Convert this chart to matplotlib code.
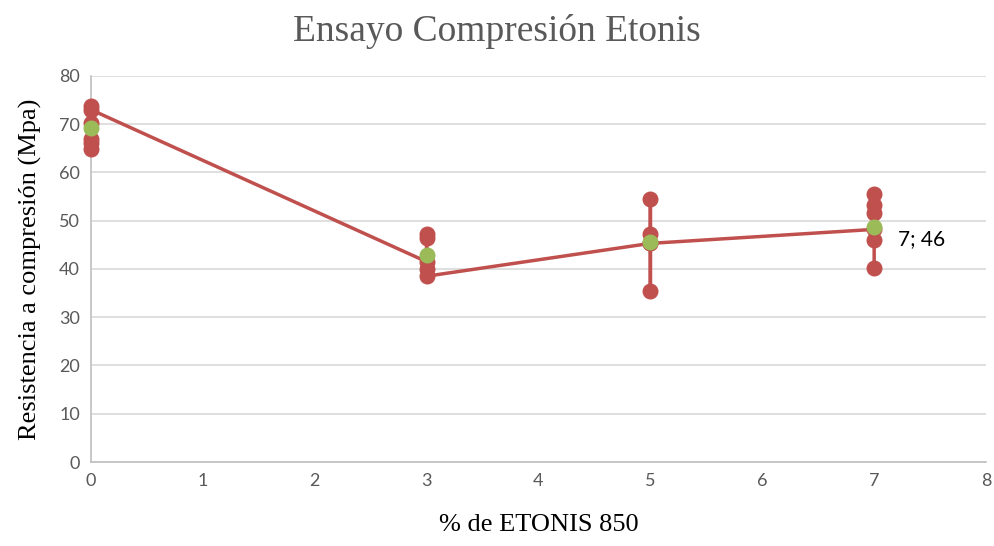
import matplotlib
matplotlib.use("Agg")
import matplotlib.pyplot as plt

# ensayos individuales (serie roja, unida en orden)
x_ensayos = [0, 0, 0, 0, 0, 0,
             3, 3, 3, 3, 3,
             5, 5, 5, 5, 5,
             7, 7, 7, 7, 7, 7]
y_ensayos = [64.8, 66.2, 67.0, 70.2, 73.8, 73.0,
             41.5, 47.3, 46.5, 40.0, 38.5,
             45.3, 54.5, 47.2, 35.5, 45.3,
             48.2, 55.5, 53.3, 51.6, 46.0, 40.3]

# promedios (serie verde)
x_prom = [0, 3, 5, 7]
y_prom = [69.2, 42.8, 45.5, 48.6]

etiqueta_x, etiqueta_y = 7, 46

rojo = "#C0504D"
verde = "#9BBB59"
gris = "#595959"

fig = plt.figure(figsize=(9.94, 5.46), dpi=100)
ax = fig.add_axes([0.0915, 0.1538, 0.9005, 0.7072])

ax.plot(x_ensayos, y_ensayos, color=rojo, lw=2.5, marker="o", ms=10.5, zorder=3, clip_on=False)
ax.plot(x_prom, y_prom, color=verde, lw=0, marker="o", ms=10.5, zorder=4, clip_on=False)
ax.annotate(f"{etiqueta_x}; {etiqueta_y}", (etiqueta_x, etiqueta_y),
            xytext=(17, 1), textcoords="offset points", va="center",
            fontsize=15, family="Lato", color="black")

ax.set_xlim(0, 8)
ax.set_ylim(0, 80)
ax.set_xticks(range(0, 9))
ax.set_yticks(range(0, 81, 10))
ax.grid(axis="y", color="#D9D9D9", lw=1.2)
ax.set_axisbelow(True)
for s in ["top", "right"]:
    ax.spines[s].set_visible(False)
for s in ["left", "bottom"]:
    ax.spines[s].set_color("#BFBFBF")
    ax.spines[s].set_linewidth(1.2)
ax.tick_params(length=0, labelsize=13, colors=gris, pad=8)
for lab in ax.get_xticklabels() + ax.get_yticklabels():
    lab.set_family("Lato")

fig.suptitle("Ensayo Compresión Etonis", x=0.5, y=0.975, fontsize=27,
             family="Liberation Serif", color=gris)
ax.set_xlabel("% de ETONIS 850", fontsize=19, family="Liberation Serif", labelpad=18)
ax.set_ylabel("Resistencia a compresión (Mpa)", fontsize=19,
              family="Liberation Serif", labelpad=12)

fig.savefig("out.png", dpi=100)
